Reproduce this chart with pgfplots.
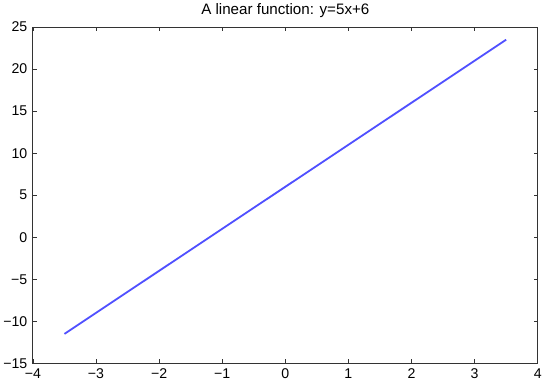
\documentclass[border=0pt]{standalone}
\usepackage{fontspec}
\setmainfont{Liberation Sans}
\usepackage{pgfplots}
\pgfplotsset{compat=1.18}
\definecolor{lineblue}{RGB}{80,80,255}
\begin{document}
\begin{tikzpicture}
\begin{axis}[
  scale only axis,
  width=500pt, height=333pt,
  xmin=-4, xmax=4, ymin=-15, ymax=25,
  xtick={-4,-3,...,4}, ytick={-15,-10,...,25},
  xticklabels={−4,−3,−2,−1,0,1,2,3,4},
  yticklabels={−15,−10,−5,0,5,10,15,20,25},
  tick align=inside,
  major tick length=4pt,
  axis line style={line width=0.9pt, black!80},
  tick style={black!80, line width=0.6pt},
  every tick label/.append style={font=\fontsize{14}{16}\selectfont},
  xticklabel style={yshift=-2pt},
  yticklabel style={xshift=-2pt},
  title={A linear function: y=5x+6},
  title style={font=\fontsize{15}{17}\selectfont, yshift=0pt},
]
\addplot[lineblue, line width=1.8pt] coordinates {(-3.5,-11.5) (0,6) (3.5,23.5)};
\end{axis}
\end{tikzpicture}
\end{document}
